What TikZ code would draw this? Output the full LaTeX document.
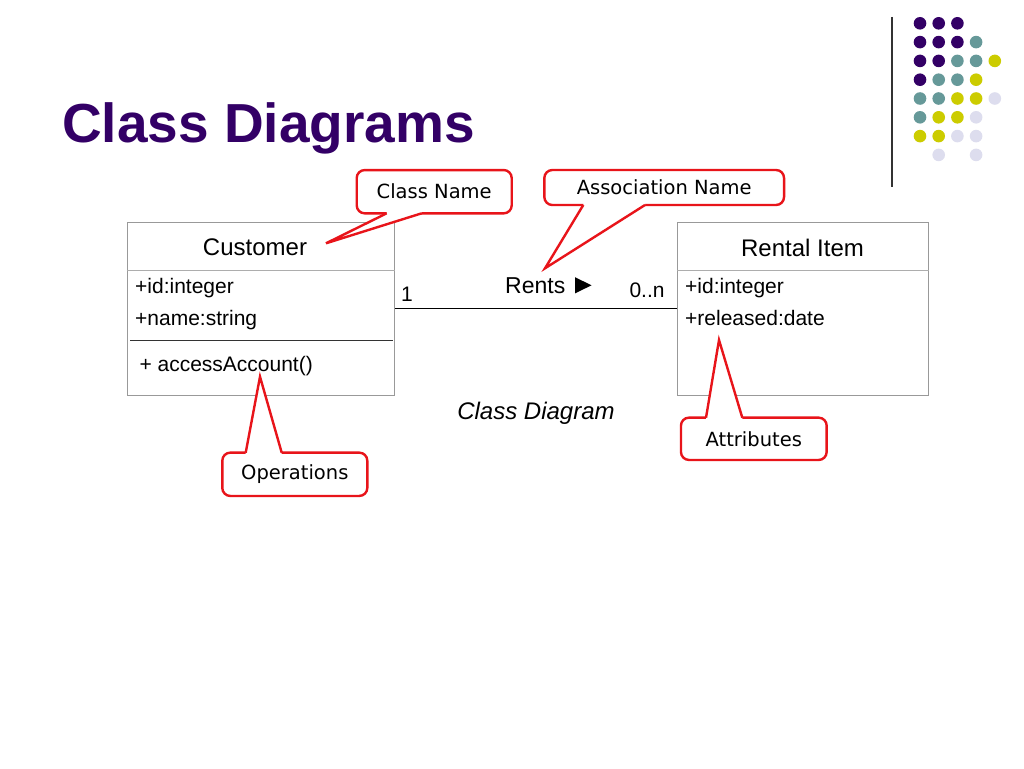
\documentclass[tikz,border=0pt]{standalone}
\usepackage{fontspec}
\setmainfont{Liberation Sans}
\newfontfamily\dv{DejaVu Sans}
\definecolor{ttl}{HTML}{330066}
\definecolor{dP}{HTML}{330066}
\definecolor{dT}{HTML}{669999}
\definecolor{dY}{HTML}{CCCC00}
\definecolor{dL}{HTML}{DDDDEE}
\definecolor{cred}{HTML}{E8141A}
\definecolor{boxgray}{HTML}{999999}
\begin{document}
\begin{tikzpicture}[x=1pt,y=-1pt,
  classbox/.style={draw=boxgray, line width=1pt, inner sep=0pt},
  divider/.style={draw=boxgray!80, line width=1pt},
  opsep/.style={draw=black!80, line width=1.4pt},
  attr/.style={anchor=base west, inner sep=0pt, font=\fontsize{21}{24}\selectfont},
  cname/.style={anchor=base, inner sep=0pt, font=\fontsize{24}{28}\selectfont},
  callout/.style={draw=cred, fill=white, line width=2.4pt, rounded corners=8pt, inner sep=0pt, font=\dv\fontsize{19.5}{22}\selectfont},
  pointer/.style={draw=cred, line width=2.4pt, line join=miter},
  dot/.style={circle, inner sep=0pt, minimum size=12.6pt}
]
\useasboundingbox (0,0) rectangle (1024,768);
\fill[white] (0,0) rectangle (1024,768);

% title
\node[anchor=base west, inner sep=0pt, text=ttl, font=\bfseries\fontsize{55}{60}\selectfont] (title) at (62,142) {Class Diagrams};

% decoration line and dots
\coordinate (vtop) at (892,17);
\coordinate (vbot) at (892,187);
\draw[black!80, line width=1.5pt] (vtop) -- (vbot);
\foreach \r/\i/\c in {0/0/P,0/1/P,0/2/P,
  1/0/P,1/1/P,1/2/P,1/3/T,
  2/0/P,2/1/P,2/2/T,2/3/T,2/4/Y,
  3/0/P,3/1/T,3/2/T,3/3/Y,
  4/0/T,4/1/T,4/2/Y,4/3/Y,4/4/L,
  5/0/T,5/1/Y,5/2/Y,5/3/L,
  6/0/Y,6/1/Y,6/2/L,6/3/L,
  7/1/L,7/3/L}{
  \node[dot, fill=d\c] (dot\r\i) at ({920+18.7*\i},{23.3+18.8*\r}) {};
}

% class boxes
\node[classbox, minimum width=267.4pt, minimum height=172.3pt] (cust) at (261,308.9) {};
\node[classbox, minimum width=250.6pt, minimum height=172.3pt] (rent) at (803,308.9) {};
\draw[divider] (cust.west |- 0,270) -- (cust.east |- 0,270);
\draw[divider] (rent.west |- 0,270) -- (rent.east |- 0,270);
\coordinate (opsL) at (130,340.3);
\coordinate (opsR) at (392.7,340.3);
\draw[opsep] (opsL) -- (opsR);

\node[cname] (custname) at (255,255.7) {Customer};
\node[attr] (cid) at (135,293.3) {+id:integer};
\node[attr] (cnm) at (135,325) {+name:string};
\node[attr] (cop) at (139.3,371.7) {+ accessAccount()};

\node[cname] (rentname) at (802.5,256.7) {Rental Item};
\node[attr] (rid) at (685,293.3) {+id:integer};
\node[attr] (rrel) at (685,325) {+released:date};

% association
\draw[black, line width=1pt] (cust.east) -- (rent.west);
\node[attr] (m1) at (401,301.7) {1};
\node[attr] (m2) at (629.3,297.3) {0..n};
\node[anchor=base west, inner sep=0pt, font=\fontsize{23}{26}\selectfont] (rents) at (505,293.3) {Rents};
\coordinate (triA) at (575,277.2);
\coordinate (triB) at (591.5,285.3);
\coordinate (triC) at (575,293.4);
\fill[black] (triA) -- (triB) -- (triC) -- cycle;

\node[anchor=base, inner sep=0pt, font=\itshape\fontsize{24}{28}\selectfont] (cdlabel) at (536,419) {Class Diagram};

% callouts
% Class Name
\node[callout, minimum width=155pt, minimum height=43.3pt] (cnc) at (434.2,191.7) {Class Name};
\coordinate (cnA) at (386.7,213.3);
\coordinate (cnB) at (421.7,213.3);
\coordinate (cnT) at (326,243.3);
\fill[white] ([yshift=3pt]cnA) -- (cnA) -- (cnT) -- (cnB) -- ([yshift=3pt]cnB) -- cycle;
\draw[pointer] (cnA) -- (cnT) -- (cnB);

% Association Name
\node[callout, minimum width=239.7pt, minimum height=35pt] (anc) at (664.2,187.5) {Association Name};
\coordinate (anA) at (583.3,205);
\coordinate (anB) at (645,205);
\coordinate (anT) at (545,268.3);
\fill[white] ([yshift=3pt]anA) -- (anA) -- (anT) -- (anB) -- ([yshift=3pt]anB) -- cycle;
\draw[pointer] (anA) -- (anT) -- (anB);

% Attributes
\node[callout, minimum width=145.7pt, minimum height=42.3pt] (atc) at (753.8,438.8) {Attributes};
\coordinate (atA) at (706,417.7);
\coordinate (atB) at (742.3,417.7);
\coordinate (atT) at (719,340);
\fill[white] ([yshift=-3pt]atA) -- (atA) -- (atT) -- (atB) -- ([yshift=-3pt]atB) -- cycle;
\draw[pointer] (atA) -- (atT) -- (atB);

% Operations
\node[callout, minimum width=145pt, minimum height=43.3pt] (opc) at (294.8,474.3) {Operations};
\coordinate (opA) at (245.7,452.7);
\coordinate (opB) at (281.7,452.7);
\coordinate (opT) at (260,376.7);
\fill[white] ([yshift=-3pt]opA) -- (opA) -- (opT) -- (opB) -- ([yshift=-3pt]opB) -- cycle;
\draw[pointer] (opA) -- (opT) -- (opB);
\end{tikzpicture}
\end{document}
